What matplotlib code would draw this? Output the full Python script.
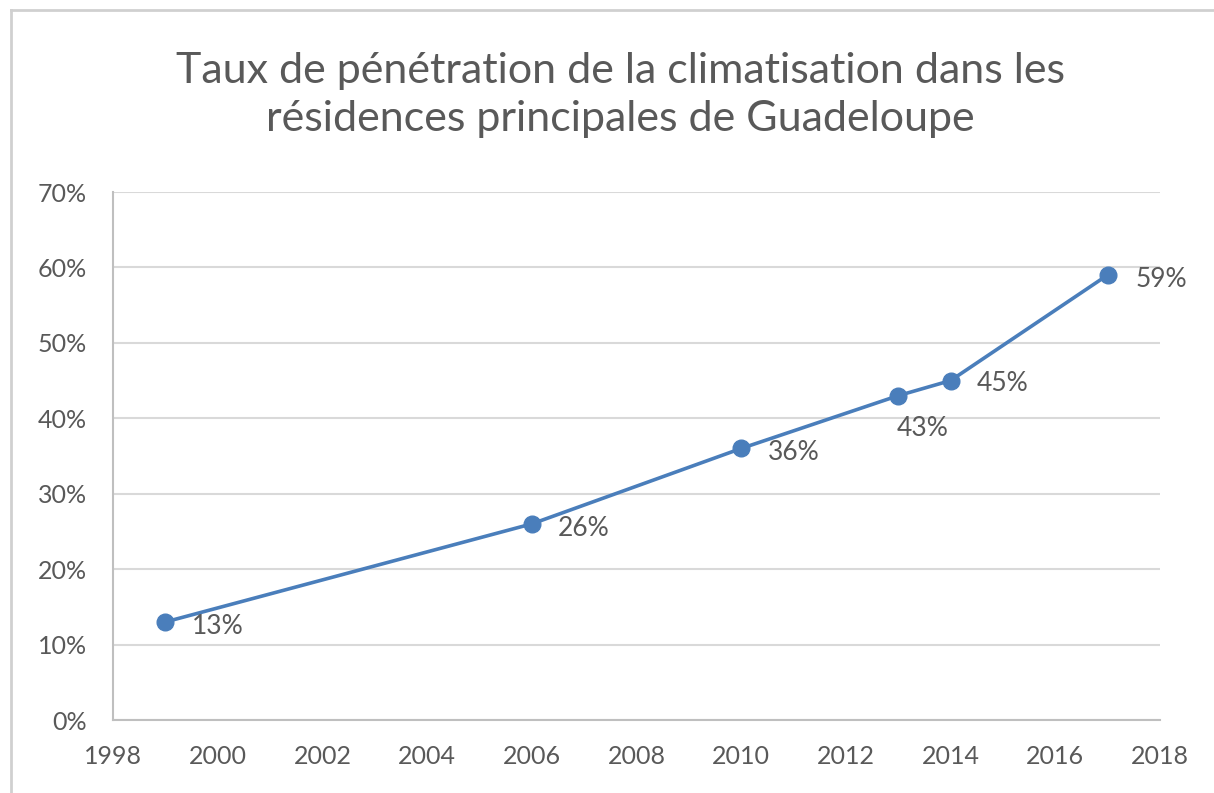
import matplotlib.pyplot as plt
from matplotlib.lines import Line2D
from matplotlib.ticker import FuncFormatter

plt.rcParams['font.family'] = ['Lato', 'DejaVu Sans']

years = [1999, 2006, 2010, 2013, 2014, 2017]
rates = [13, 26, 36, 43, 45, 59]
labels = ['13%', '26%', '36%', '43%', '45%', '59%']
# label placement: offset in points from the marker
offsets = [(19, -3), (19, -3), (19, -3), (-1, -24), (19, -2), (20, -3)]

x_ticks = list(range(1998, 2019, 2))
y_ticks = list(range(0, 71, 10))

blue = '#4a7ebb'
grey_text = '#595959'
grid_col = '#d9d9d9'

fig = plt.figure(figsize=(12.14, 7.93), dpi=100)
ax = fig.add_axes([113 / 1214, 1 - 720 / 793, (1160 - 113) / 1214, (720 - 192) / 793])

# outer frame (only top and left edges visible in the reference)
fig.add_artist(Line2D([11 / 1214, 11 / 1214], [0, 1 - 10 / 793], transform=fig.transFigure,
                      color='#d0d0d0', lw=2))
fig.add_artist(Line2D([11 / 1214, 1], [1 - 10 / 793, 1 - 10 / 793], transform=fig.transFigure,
                      color='#d0d0d0', lw=2))

ax.plot(years, rates, color=blue, lw=2.6, marker='o', ms=12, zorder=3)

for x, y, lab, off in zip(years, rates, labels, offsets):
    ax.annotate(lab, (x, y), xytext=off, textcoords='offset points',
                ha='left', va='center', fontsize=19, color=grey_text)

ax.set_xlim(1998, 2018)
ax.set_ylim(0, 70)
ax.set_xticks(x_ticks)
ax.set_yticks(y_ticks)
ax.yaxis.set_major_formatter(FuncFormatter(lambda v, p: f'{int(v)}%'))
ax.tick_params(length=0, labelsize=18, labelcolor=grey_text)
ax.tick_params(axis='x', pad=18)
ax.tick_params(axis='y', pad=19)

ax.grid(axis='y', color=grid_col, lw=1.5)
ax.set_axisbelow(True)
for s in ['top', 'right']:
    ax.spines[s].set_visible(False)
ax.spines['left'].set_color('#bfbfbf')
ax.spines['bottom'].set_color('#bfbfbf')
ax.spines['left'].set_linewidth(1.5)
ax.spines['bottom'].set_linewidth(1.5)

fig.text(620 / 1214, 1 - 95 / 793,
         'Taux de pénétration de la climatisation dans les\nrésidences principales de Guadeloupe',
         ha='center', va='center', fontsize=31, color=grey_text, linespacing=1.3)

fig.savefig('out.png', dpi=100)
